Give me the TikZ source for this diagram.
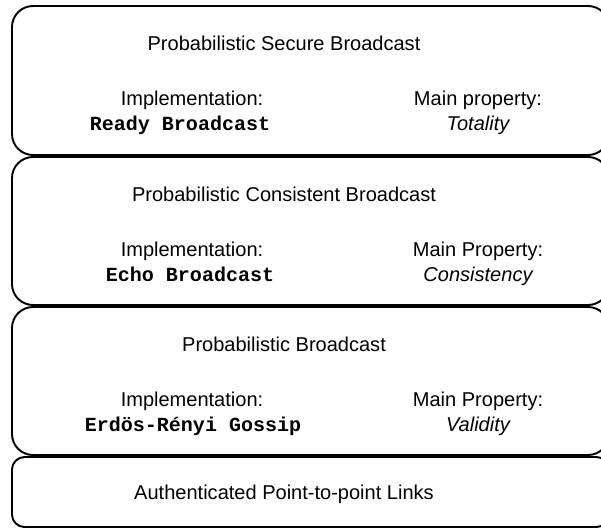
\documentclass[tikz,border=0pt]{standalone}
\usepackage{fontspec}
\setmainfont{Liberation Sans}
\setmonofont{Liberation Mono}
\tikzset{
  layer/.style={line width=1.1pt,rounded corners=0.42cm},
  baselayer/.style={line width=1.1pt,rounded corners=0.25cm},
  every node/.style={font=\fontsize{11.4}{13}\selectfont,inner sep=0pt,anchor=base},
}
\newcommand{\implname}[1]{\texttt{\bfseries #1}}

\begin{document}
\begin{tikzpicture}[x=0.02cm,y=-0.02cm]
    \useasboundingbox (0,0) rectangle (601,529);
    \clip (0,0) rectangle (601,529);

    % the four layers, right side runs off the page
    \draw[layer] (12,6) rectangle (609,155);
    \draw[layer] (12,157) rectangle (609,305);
    \draw[layer] (12,307) rectangle (609,455);
    \draw[baselayer] (12,457) rectangle (609,527);

    % secure broadcast
    \node (secTitle) at (284,50) {Probabilistic Secure Broadcast};
    \node (secImpl) at (192,105) {Implementation:};
    \node (secAlg) at (180,130) {\implname{Ready Broadcast}};
    \node (secProp) at (478,105) {Main property:};
    \node (secVal) at (478,130) {\itshape Totality};

    % consistent broadcast
    \node (conTitle) at (284,201) {Probabilistic Consistent Broadcast};
    \node (conImpl) at (192,256) {Implementation:};
    \node (conAlg) at (190,281) {\implname{Echo Broadcast}};
    \node (conProp) at (478,256) {Main Property:};
    \node (conVal) at (478,281) {\itshape Consistency};

    % plain broadcast
    \node (pbTitle) at (284,351) {Probabilistic Broadcast};
    \node (pbImpl) at (192,406) {Implementation:};
    \node (pbAlg) at (193,431) {\implname{Erdös-Rényi Gossip}};
    \node (pbProp) at (478,406) {Main Property:};
    \node (pbVal) at (478,431) {\itshape Validity};

    \node (links) at (284,499) {Authenticated Point-to-point Links};
\end{tikzpicture}
\end{document}
